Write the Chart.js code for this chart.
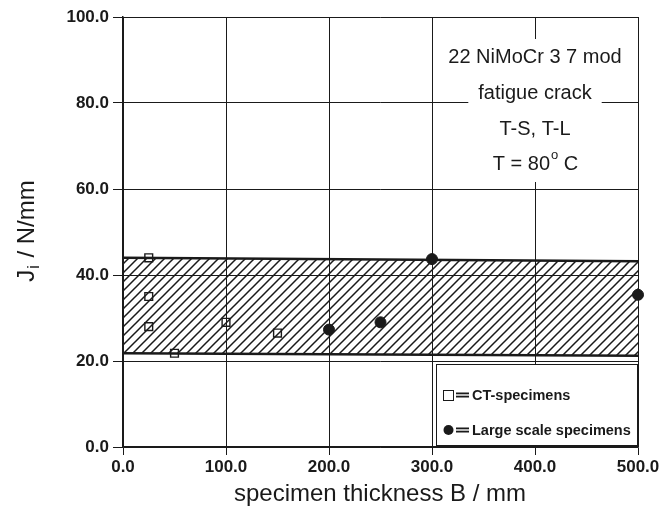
<!DOCTYPE html>
<html>
<head>
<meta charset="utf-8">
<script src="https://cdn.jsdelivr.net/npm/chart.js@4"></script>
<style>
  html, body { margin: 0; padding: 0; background: #fff; }
  #wrap { width: 669px; height: 511px; }
</style>
</head>
<body>
<div id="wrap"><canvas id="jChart" width="669" height="511"></canvas></div>
<script>
// data
const ctThickness = [25, 25, 25, 50, 100, 150];
const ctJi = [44, 35, 28, 21.8, 29, 26.5];
const largeThickness = [200, 250, 300, 500];
const largeJi = [27.3, 29, 43.7, 35.4];
const bandX = [0, 500];
const bandUpper = [44, 43.2];
const bandLower = [21.8, 21.2];
const yTicks = [0, 20, 40, 60, 80, 100];
const xTicks = [0, 100, 200, 300, 400, 500];
const noteLines = ["22 NiMoCr 3 7 mod", "fatigue crack", "T-S, T-L", "T = 80° C"];
const legendLabels = ["CT-specimens", "Large scale specimens"];

const ink = "#1a1a1a";
const fam = "'Liberation Sans', Arial, sans-serif";

// hatch pattern for the scatter band
function hatch() {
  const c = document.createElement("canvas");
  c.width = 9; c.height = 9;
  const g = c.getContext("2d");
  g.strokeStyle = ink;
  g.lineWidth = 1.5;
  g.beginPath();
  g.moveTo(-1, 10); g.lineTo(10, -1);
  g.moveTo(-5, 5); g.lineTo(5, -5);
  g.moveTo(4, 14); g.lineTo(14, 4);
  g.stroke();
  return g.createPattern(c, "repeat");
}

const toPts = (xs, ys) => xs.map((x, i) => ({ x: x, y: ys[i] }));

// text note, legend box and axis titles
const extras = {
  id: "extras",
  afterDraw(chart) {
    const ctx = chart.ctx;
    const x = chart.scales.x, y = chart.scales.y;
    ctx.save();

    // note in upper right
    const big = "20px " + fam, small = "13px " + fam;
    ctx.font = big;
    ctx.textBaseline = "middle";
    const cx = 535;
    const rows = [57, 93, 129, 164];
    noteLines.forEach((t, i) => {
      const w = ctx.measureText(t).width;
      ctx.fillStyle = "#fff";
      ctx.fillRect(cx - w / 2 - 10, rows[i] - 18, w + 20, 36);
    });
    ctx.fillStyle = ink;
    noteLines.forEach((t, i) => {
      if (i == 3) {
        // degree sign raised
        ctx.textAlign = "left";
        const a = "T = 80", b = "o", c = " C";
        ctx.font = big;
        const wa = ctx.measureText(a).width, wc = ctx.measureText(c).width;
        ctx.font = small;
        const wb = ctx.measureText(b).width;
        let sx = cx - (wa + wb + wc) / 2;
        ctx.font = big;
        ctx.fillText(a, sx, rows[i]);
        ctx.font = small;
        ctx.fillText(b, sx + wa + 1, rows[i] - 9);
        ctx.font = big;
        ctx.fillText(c, sx + wa + wb + 1, rows[i]);
      } else {
        ctx.textAlign = "center";
        ctx.font = big;
        ctx.fillText(t, cx, rows[i]);
      }
    });

    // legend box
    const lx = x.getPixelForValue(300) + 4, rx = x.getPixelForValue(500);
    const ty = y.getPixelForValue(20) + 3, by = y.getPixelForValue(0) - 2;
    ctx.fillStyle = "#fff";
    ctx.fillRect(lx, ty, rx - lx, by - ty);
    ctx.strokeStyle = ink;
    ctx.lineWidth = 1;
    ctx.strokeRect(lx + 0.5, ty + 0.5, rx - lx - 1, by - ty);
    ctx.font = "bold 14.5px " + fam;
    ctx.textAlign = "left";
    ctx.fillStyle = ink;
    const ly = [ty + 31, ty + 66];
    // square marker
    ctx.strokeRect(lx + 7.5, ly[0] - 4.5, 10, 10);
    // circle marker
    ctx.beginPath();
    ctx.arc(lx + 12.5, ly[1], 5, 0, Math.PI * 2);
    ctx.fill();
    ly.forEach((yy, i) => {
      ctx.fillRect(lx + 20, yy - 2.5, 13, 1.8);
      ctx.fillRect(lx + 20, yy + 0.7, 13, 1.8);
      ctx.fillText(legendLabels[i], lx + 36, yy + 1);
    });

    // y axis title with subscript
    ctx.translate(27, 232);
    ctx.rotate(-Math.PI / 2);
    ctx.textBaseline = "middle";
    const tBig = "24px " + fam, tSmall = "16px " + fam;
    ctx.font = tBig;
    const p1 = "J", p3 = " / N/mm";
    const w1 = ctx.measureText(p1).width, w3 = ctx.measureText(p3).width;
    ctx.font = tSmall;
    const w2 = ctx.measureText("i").width;
    let sx = -(w1 + w2 + w3) / 2;
    ctx.font = tBig;
    ctx.fillText(p1, sx, 0);
    ctx.font = tSmall;
    ctx.fillText("i", sx + w1 + 1, 8);
    ctx.font = tBig;
    ctx.fillText(p3, sx + w1 + w2 + 2, 0);
    ctx.restore();

    // x axis title
    ctx.save();
    ctx.font = tBig;
    ctx.fillStyle = ink;
    ctx.textAlign = "center";
    ctx.textBaseline = "middle";
    ctx.fillText("specimen thickness B / mm", 380, 494);
    ctx.restore();
  }
};

const tickFont = { family: fam, size: 17, weight: "bold" };

new Chart(document.getElementById("jChart"), {
  type: "scatter",
  data: {
    datasets: [
      {
        label: legendLabels[0],
        data: toPts(ctThickness, ctJi),
        pointStyle: "rect",
        pointRadius: 5.5,
        pointBackgroundColor: "rgba(255,255,255,0)",
        pointBorderColor: ink,
        pointBorderWidth: 1.4,
        clip: false
      },
      {
        label: legendLabels[1],
        data: toPts(largeThickness, largeJi),
        pointStyle: "circle",
        pointRadius: 5.5,
        pointBackgroundColor: ink,
        pointBorderColor: ink,
        clip: false
      },
      {
        label: "upper",
        type: "line",
        data: toPts(bandX, bandUpper),
        borderColor: ink,
        borderWidth: 2.5,
        pointRadius: 0,
        fill: "+1",
        backgroundColor: hatch()
      },
      {
        label: "lower",
        type: "line",
        data: toPts(bandX, bandLower),
        borderColor: ink,
        borderWidth: 2.5,
        pointRadius: 0,
        fill: false
      }
    ]
  },
  options: {
    responsive: false,
    animation: false,
    layout: { padding: { top: 17, right: 31, left: 0, bottom: 0 } },
    plugins: {
      legend: { display: false },
      tooltip: { enabled: false }
    },
    scales: {
      x: {
        type: "linear",
        min: 0,
        max: 500,
        afterBuildTicks: s => { s.ticks = xTicks.map(v => ({ value: v })); },
        afterFit: s => { s.height = 64; },
        grid: { color: ink, lineWidth: 1, tickLength: 8 },
        border: { color: ink, width: 1.5 },
        ticks: { color: ink, font: tickFont, padding: 2, callback: v => v.toFixed(1) }
      },
      y: {
        min: 0,
        max: 100,
        afterBuildTicks: s => { s.ticks = yTicks.map(v => ({ value: v })); },
        afterFit: s => { s.width = 123; },
        grid: { color: ink, lineWidth: 1, tickLength: 10 },
        border: { color: ink, width: 1.5 },
        ticks: { color: ink, font: tickFont, padding: 4, callback: v => v.toFixed(1) }
      }
    }
  },
  plugins: [extras]
});
</script>
</body>
</html>
